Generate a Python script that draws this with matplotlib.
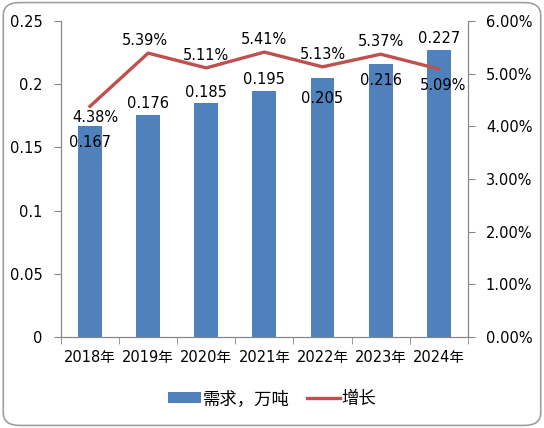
import matplotlib.pyplot as plt
from matplotlib.patches import FancyBboxPatch, Patch
from matplotlib.lines import Line2D
from matplotlib.ticker import FuncFormatter

plt.rcParams['font.family'] = ['DejaVu Sans', 'Noto Sans CJK SC']

years = ['2018年', '2019年', '2020年', '2021年', '2022年', '2023年', '2024年']
demand = [0.167, 0.176, 0.185, 0.195, 0.205, 0.216, 0.227]
growth = [4.38, 5.39, 5.11, 5.41, 5.13, 5.37, 5.09]

# label offsets (points)
demand_off = [(0, -12), (0, 8), (0, 8), (0, 8), (0, -15), (0, -12), (0, 8)]
growth_off = [(4, -8), (-2, 9), (0, 9), (0, 9), (0, 9), (0, 9), (3, -12)]

bar_color = '#4F81BD'
line_color = '#C0504D'
axis_color = '#868686'

fig = plt.figure(figsize=(5.44, 4.28), dpi=100)
fig.patches.append(FancyBboxPatch((0.006, 0.006), 0.988, 0.988, boxstyle='round,pad=0,rounding_size=0.03',
                                  transform=fig.transFigure, fill=False, edgecolor='#A0A0A0', linewidth=1.2))

ax = fig.add_axes([0.112, 0.2126, 0.748, 0.7383])
x = list(range(len(years)))
ax.bar(x, demand, width=0.41, color=bar_color, zorder=2)
ax.set_xlim(-0.5, len(years) - 0.5)
ax.set_ylim(0, 0.25)
ax.set_yticks([0, 0.05, 0.1, 0.15, 0.2, 0.25])
ax.set_yticklabels(['0', '0.05', '0.1', '0.15', '0.2', '0.25'])
ax.set_xticks(x)
ax.set_xticklabels(years, fontsize=10.5)
ax.set_xticks([i - 0.5 for i in range(len(years) + 1)], minor=True)
ax.tick_params(axis='x', which='major', length=0, pad=9)
ax.tick_params(axis='x', which='minor', length=5, color=axis_color)
ax.tick_params(axis='y', length=5, color=axis_color, labelsize=10.5, pad=8)
ax.spines['top'].set_visible(False)
for s in ['left', 'bottom', 'right']:
    ax.spines[s].set_color(axis_color)

ax2 = ax.twinx()
ax2.plot(x, growth, color=line_color, linewidth=2.4, zorder=3)
ax2.set_ylim(0, 6)
ax2.set_yticks([0, 1, 2, 3, 4, 5, 6])
ax2.yaxis.set_major_formatter(FuncFormatter(lambda v, p: '%.2f%%' % v))
ax2.tick_params(axis='y', length=5, color=axis_color, labelsize=10.5, pad=8)
ax2.spines['top'].set_visible(False)
for s in ['left', 'bottom', 'right']:
    ax2.spines[s].set_color(axis_color)

for i, v in enumerate(demand):
    ax.annotate('%g' % v, (i, v), xytext=demand_off[i], textcoords='offset points',
                ha='center', va='center', fontsize=10.5, zorder=5)
for i, v in enumerate(growth):
    ax2.annotate('%.2f%%' % v, (i, v), xytext=growth_off[i], textcoords='offset points',
                 ha='center', va='center', fontsize=10.5, zorder=5)

handles = [Patch(facecolor=bar_color, edgecolor='none'), Line2D([0], [0], color=line_color, linewidth=2.4)]
fig.legend(handles, ['需求，万吨', '增长'], loc='center', bbox_to_anchor=(0.5, 0.068), ncol=2,
           frameon=False, fontsize=12.5, handlelength=1.9, handleheight=0.6, columnspacing=1.0, handletextpad=0.1)

fig.savefig('out.png', dpi=100)
